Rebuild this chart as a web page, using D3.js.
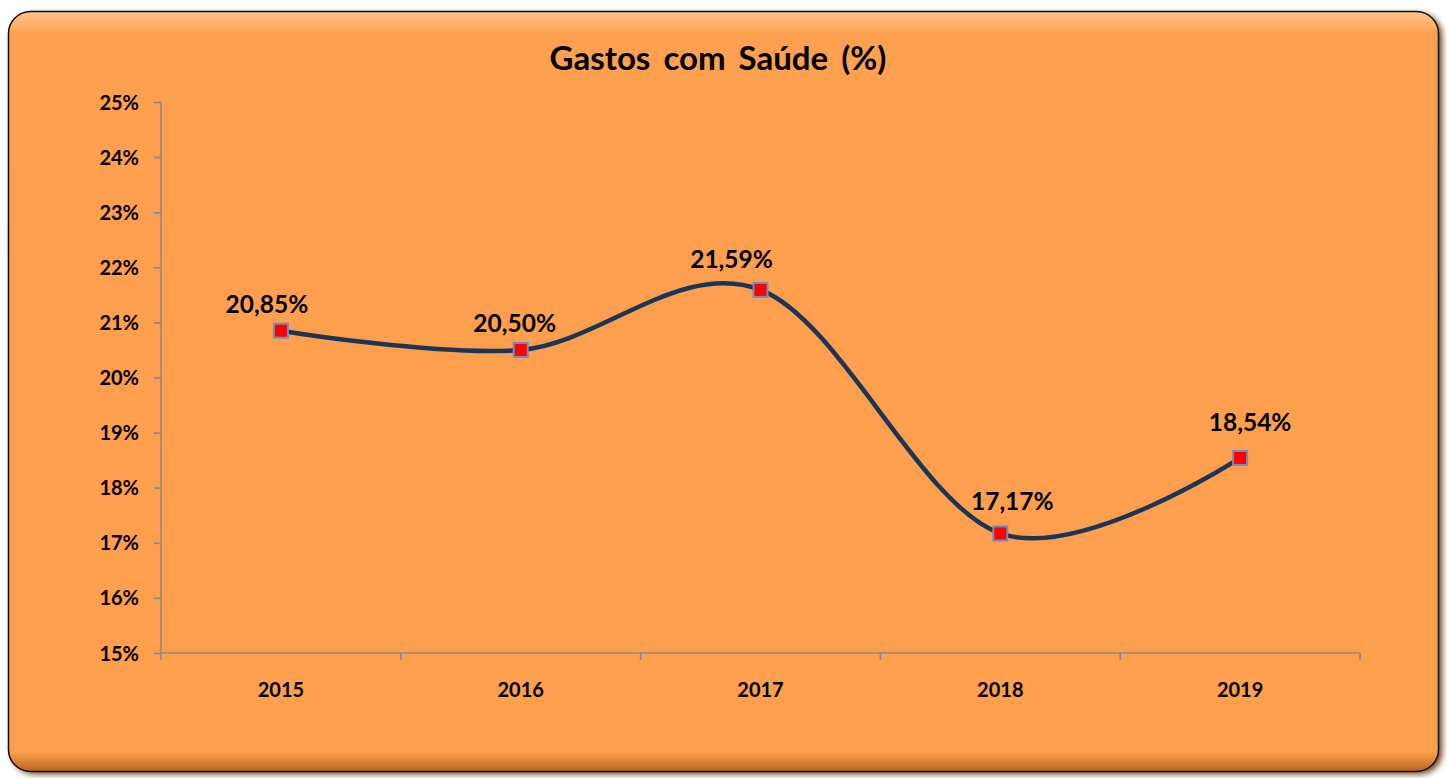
<!DOCTYPE html>
<html>
<head>
<meta charset="utf-8">
<script src="https://cdn.jsdelivr.net/npm/d3@7"></script>
<style>
  body { margin: 0; background: #fff; }
  svg { display: block; }
  text { font-family: Lato, "Open Sans", sans-serif; font-weight: bold; fill: #000; }
</style>
</head>
<body>
<div id="content"></div>
<script>
// datas
const years = ["2015", "2016", "2017", "2018", "2019"];
const gastos = [20.85, 20.50, 21.59, 17.17, 18.54];
const yTicks = [15, 16, 17, 18, 19, 20, 21, 22, 23, 24, 25];
// label nudges (as placed in the original)
const labelDx = [-14, -6, -29, 12, 10];
const labelDy = [-18, -18, -22, -23, -27];

// view
const w = 1447;
const h = 778;
const plot = { left: 161, right: 1360, top: 102, bottom: 653 };

const svg = d3.select("#content")
  .append("svg")
  .attr("width", w)
  .attr("height", h);

const defs = svg.append("defs");
const blur = defs.append("filter").attr("id", "shadow")
  .attr("x", "-5%").attr("y", "-5%").attr("width", "110%").attr("height", "110%");
blur.append("feGaussianBlur").attr("stdDeviation", 3);

const shine = defs.append("linearGradient").attr("id", "shine")
  .attr("x1", 0).attr("y1", 0).attr("x2", 0).attr("y2", 1);
shine.append("stop").attr("offset", 0).attr("stop-color", "#ffc48a");
shine.append("stop").attr("offset", 0.03).attr("stop-color", "#fda04f");
shine.append("stop").attr("offset", 0.975).attr("stop-color", "#fd9f4c");
shine.append("stop").attr("offset", 1).attr("stop-color", "#b8621f");

// box
svg.append("rect")
  .attr("x", 12).attr("y", 14)
  .attr("width", 1430).attr("height", 760)
  .attr("rx", 22)
  .attr("fill", "#6b3a12")
  .attr("filter", "url(#shadow)");

svg.append("rect")
  .attr("x", 8.5).attr("y", 11.5)
  .attr("width", 1430).attr("height", 760)
  .attr("rx", 22)
  .attr("fill", "url(#shine)")
  .attr("stroke", "#111")
  .attr("stroke-width", 1.5);

// title
svg.append("text")
  .attr("x", 718).attr("y", 70)
  .attr("text-anchor", "middle")
  .attr("font-size", 33)
  .attr("word-spacing", 5)
  .text("Gastos com Saúde (%)");

// scales
const x = d3.scaleBand().domain(years).range([plot.left, plot.right]);
const y = d3.scaleLinear().domain([15, 25]).range([plot.bottom, plot.top]);

// axes
const yAxis = svg.append("g")
  .attr("transform", `translate(${plot.left},0)`)
  .call(d3.axisLeft(y).tickValues(yTicks).tickSize(7).tickPadding(15)
    .tickFormat(d => `${d}%`));

const xAxis = svg.append("g")
  .attr("transform", `translate(0,${plot.bottom})`)
  .call(d3.axisBottom(x).tickSize(0).tickPadding(32));

// x tick marks on band edges
xAxis.selectAll(".edge")
  .data(years.map(d => x(d)).concat([plot.right]))
  .enter()
  .append("line")
  .attr("x1", d => d).attr("x2", d => d)
  .attr("y1", 0).attr("y2", 7);

svg.selectAll(".domain, .tick line, .edge, g line")
  .attr("stroke", "#8a8a8a")
  .attr("stroke-width", 1.6);
xAxis.select(".domain").attr("d", `M${plot.left},0H${plot.right}`);
yAxis.select(".domain").attr("d", `M0,${plot.top}V${plot.bottom}`);

svg.selectAll(".tick text")
  .attr("font-size", 20)
  .attr("font-family", "Lato, sans-serif")
  .attr("font-weight", "bold")
  .attr("fill", "#000");
yAxis.selectAll(".tick text").attr("dy", "0.35em");
xAxis.selectAll(".tick text").attr("dy", "0.6em");

// line
const cx = d => x(d) + x.bandwidth() / 2;
const line = d3.line()
  .x((d, i) => cx(years[i]))
  .y(d => y(d))
  .curve(d3.curveCardinal.tension(0));

svg.append("path")
  .datum(gastos)
  .attr("d", line)
  .attr("fill", "none")
  .attr("stroke", "#1a3558")
  .attr("stroke-width", 4.5);

// markers
svg.selectAll("rect.marker")
  .data(gastos)
  .enter()
  .append("rect")
  .attr("class", "marker")
  .attr("x", (d, i) => cx(years[i]) - 7)
  .attr("y", d => y(d) - 7)
  .attr("width", 14)
  .attr("height", 14)
  .attr("fill", "#ff0000")
  .attr("stroke", "#6f8fc4")
  .attr("stroke-width", 2);

// labels
svg.selectAll("text.label")
  .data(gastos)
  .enter()
  .append("text")
  .attr("class", "label")
  .attr("x", (d, i) => cx(years[i]) + labelDx[i])
  .attr("y", (d, i) => y(d) + labelDy[i])
  .attr("text-anchor", "middle")
  .attr("font-size", 24.5)
  .text(d => d.toFixed(2).replace(".", ",") + "%");
</script>
</body>
</html>
